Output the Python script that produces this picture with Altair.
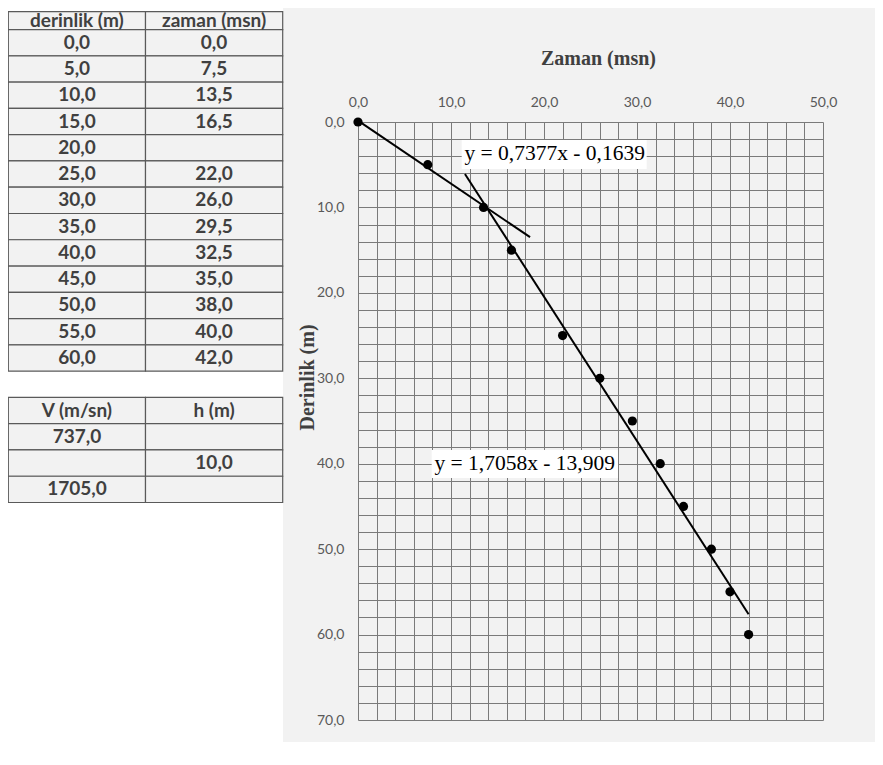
import altair as alt
import pandas as pd

# ---- data ----
derinlik = [0.0, 5.0, 10.0, 15.0, 20.0, 25.0, 30.0, 35.0, 40.0, 45.0, 50.0, 55.0, 60.0]
zaman = [0.0, 7.5, 13.5, 16.5, None, 22.0, 26.0, 29.5, 32.5, 35.0, 38.0, 40.0, 42.0]
hiz = [737.0, None, 1705.0]
kalinlik = [None, 10.0, None]
headers1 = ["derinlik (m)", "zaman (msn)"]
headers2 = ["V (m/sn)", "h (m)"]
eq_labels = ["y = 0,7377x - 0,1639", "y = 1,7058x - 13,909"]
x_ticks = list(range(0, 52, 2))
y_ticks = list(range(0, 72, 2))


def fmt(v):
    return "" if v is None else f"{v:.1f}".replace(".", ",")


# ---- table (spreadsheet cells) ----
cells, texts = [], []
def add_row(r, vals, top=None):
    r0 = r if top is None else top
    for c, v in enumerate(vals):
        cells.append({"c0": c, "c1": c + 1, "r0": r0, "r1": r + 1})
        texts.append({"cx": c + 0.5, "ry": (r0 + r + 1) / 2, "t": v})

add_row(0, headers1, top=0.32)  # first row partly hidden by the page margin
for i, (d, z) in enumerate(zip(derinlik, zaman)):
    add_row(1 + i, [fmt(d), fmt(z)])
add_row(15, headers2)
for i, (v, h) in enumerate(zip(hiz, kalinlik)):
    add_row(16 + i, [fmt(v), fmt(h)])

cells_df = pd.DataFrame(cells)
texts_df = pd.DataFrame(texts)

tx_scale = alt.Scale(domain=[0, 2], range=[-349.7, -75.3], zero=False, nice=False)
ty_scale = alt.Scale(domain=[0, 19], range=[-118.7, 380.5], zero=False, nice=False)

white_bg = alt.Chart(alt.Data(values=[{}])).mark_rect(color="white").encode(
    x=alt.value(-360), x2=alt.value(-75), y=alt.value(-130), y2=alt.value(650)
)
table_cells = alt.Chart(cells_df).mark_rect(
    fill="#f2f2f2", stroke="#5a5a5a", strokeWidth=1.2
).encode(
    x=alt.X("c0:Q", scale=tx_scale, axis=None),
    x2="c1",
    y=alt.Y("r0:Q", scale=ty_scale, axis=None),
    y2="r1",
)
table_text = alt.Chart(texts_df).mark_text(
    font="Lato", fontSize=19, fontWeight="bold", color="#404040",
    align="center", baseline="middle"
).encode(
    x=alt.X("cx:Q", scale=tx_scale, axis=None),
    y=alt.Y("ry:Q", scale=ty_scale, axis=None),
    text="t:N",
)
table = alt.layer(white_bg, table_cells, table_text)

# ---- main chart ----
df = pd.DataFrame({"derinlik": derinlik, "zaman": zaman})

label_expr = "datum.value % 10 == 0 ? replace(format(datum.value, '.1f'), '.', ',') : ''"
x_scale = alt.Scale(domain=[0, 50], nice=False, zero=False)
y_scale = alt.Scale(domain=[0, 70], nice=False, zero=False, reverse=True)

x_axis = alt.Axis(
    orient="top", values=x_ticks, labelExpr=label_expr,
    grid=True, gridColor="#7a7a7a", gridWidth=1, gridOpacity=1,
    ticks=False, tickSize=0, domain=False,
    labelPadding=20, labelBaseline="middle", labelFont="Lato", labelFontSize=14,
    labelColor="#595959", labelFlush=False, labelOverlap=False,
    title="Zaman (msn)", titleFont="Liberation Serif", titleFontSize=20,
    titleFontWeight="bold", titleColor="#404040",
    titleX=240, titleY=-64, titleAlign="center", titleBaseline="middle", titleAngle=0,
)
y_axis = alt.Axis(
    orient="left", values=y_ticks, labelExpr=label_expr,
    grid=True, gridColor="#7a7a7a", gridWidth=1, gridOpacity=1,
    ticks=False, tickSize=0, domain=False,
    labelPadding=14, labelBaseline="middle", labelFont="Lato", labelFontSize=14,
    labelColor="#595959", labelFlush=False, labelOverlap=False,
    title="Derinlik (m)", titleFont="Liberation Serif", titleFontSize=20,
    titleFontWeight="bold", titleColor="#404040",
    titleX=-51, titleY=255, titleAlign="center", titleBaseline="middle",
)


def X(field):
    return alt.X(f"{field}:Q", scale=x_scale, axis=x_axis)


def Y(field):
    return alt.Y(f"{field}:Q", scale=y_scale, axis=y_axis)


points = alt.Chart(df).mark_circle(size=85, color="black", opacity=1).encode(
    x=X("zaman"), y=Y("derinlik")
)

line1 = alt.Chart(df).transform_filter("datum.derinlik <= 10").transform_regression(
    "zaman", "derinlik", extent=[0, 18.5]
).mark_line(color="black", strokeWidth=2).encode(x=X("zaman"), y=Y("derinlik"))

line2 = alt.Chart(df).transform_filter(
    "datum.derinlik >= 10 && isValid(datum.zaman)"
).transform_regression(
    "zaman", "derinlik", extent=[11.5, 42]
).mark_line(color="black", strokeWidth=2).encode(x=X("zaman"), y=Y("derinlik"))

# annotation placement (data units)
ann = pd.DataFrame({
    "label": eq_labels,
    "tx": [21.15, 17.92], "ty": [3.80, 40.03],
    "bx0": [11.15, 7.92], "bx1": [31.04, 27.96],
    "by0": [2.11, 38.39], "by1": [5.50, 41.67],
})
boxes = alt.Chart(ann).mark_rect(fill="white").encode(
    x=X("bx0"), x2="bx1", y=Y("by0"), y2="by1",
)
eq_text = alt.Chart(ann).mark_text(
    font="Liberation Serif", fontSize=21.5, color="black", align="center", baseline="middle"
).encode(x=X("tx"), y=Y("ty"), text="label:N")

main = alt.layer(points, line1, line2, boxes, eq_text)

chart = alt.layer(table, main).resolve_scale(
    x="independent", y="independent"
).properties(
    width=465, height=598, autosize="none",
    padding={"left": 350, "top": 114, "right": 52, "bottom": 22},
).configure(background="#f2f2f2").configure_view(strokeWidth=0)

chart.save("out.html", embed_options={"renderer": "svg", "actions": False})
